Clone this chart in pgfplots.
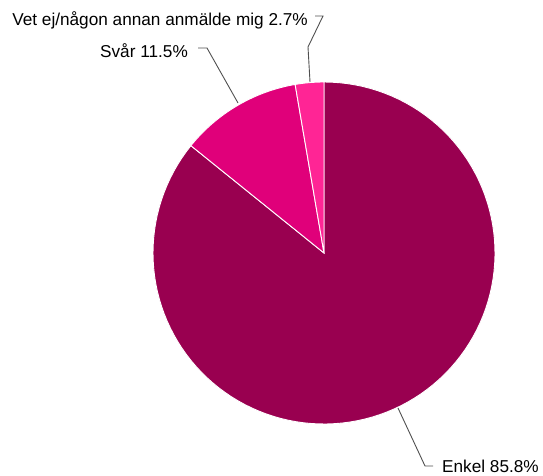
\documentclass[border=0pt]{standalone}
\usepackage{fontspec}
\setmainfont{Liberation Sans}
\usepackage{pgfplots}
\pgfplotsset{compat=1.18}

\definecolor{enkel}{HTML}{990050}
\definecolor{svar}{HTML}{E0007A}
\definecolor{vetej}{HTML}{FF2595}
\definecolor{leader}{HTML}{505050}

% shares in percent
\def\vEnkel{85.8}
\def\vSvar{11.5}
\def\vVet{2.7}

\begin{document}
\begin{tikzpicture}
\pgfmathsetmacro\aA{90}
\pgfmathsetmacro\aB{90-3.6*\vEnkel}
\pgfmathsetmacro\aC{\aB-3.6*\vSvar}
\pgfmathsetmacro\aD{\aC-3.6*\vVet}
\begin{axis}[
    at={(0,0)}, anchor=south west,
    scale only axis,
    width=543pt, height=476pt,
    xmin=0, xmax=543, ymin=0, ymax=476,
    y dir=reverse,
    hide axis,
    clip=false,
    samples=120,
    variable=\t,
]
\addplot[fill=enkel, draw=white, line width=0.9pt, domain=\aB:\aA]
    ({324+171*cos(\t)}, {253-171*sin(\t)}) -- (axis cs:324,253) -- cycle;
\addplot[fill=svar, draw=white, line width=0.9pt, domain=\aC:\aB]
    ({324+171*cos(\t)}, {253-171*sin(\t)}) -- (axis cs:324,253) -- cycle;
\addplot[fill=vetej, draw=white, line width=0.9pt, domain=\aD:\aC]
    ({324+171*cos(\t)}, {253-171*sin(\t)}) -- (axis cs:324,253) -- cycle;

\draw[leader, line width=0.9pt] (axis cs:315,16) -- (axis cs:323,16) -- (axis cs:308,47) -- (axis cs:310,82);
\draw[leader, line width=0.9pt] (axis cs:198,48) -- (axis cs:207,48) -- (axis cs:238,103);
\draw[leader, line width=0.9pt] (axis cs:433,466) -- (axis cs:425,466) -- (axis cs:398,408);

\node[anchor=base east, inner sep=0pt, font=\fontsize{17.2}{20}\selectfont] at (axis cs:308,26) {Vet ej/någon annan anmälde mig 2.7\%};
\node[anchor=base east, inner sep=0pt, font=\fontsize{17.2}{20}\selectfont] at (axis cs:188,58) {Svår 11.5\%};
\node[anchor=base west, inner sep=0pt, font=\fontsize{17.2}{20}\selectfont] at (axis cs:442,472) {Enkel 85.8\%};
\end{axis}
\pgfresetboundingbox
\useasboundingbox (0,0) rectangle (543pt,476pt);
\end{tikzpicture}
\end{document}
